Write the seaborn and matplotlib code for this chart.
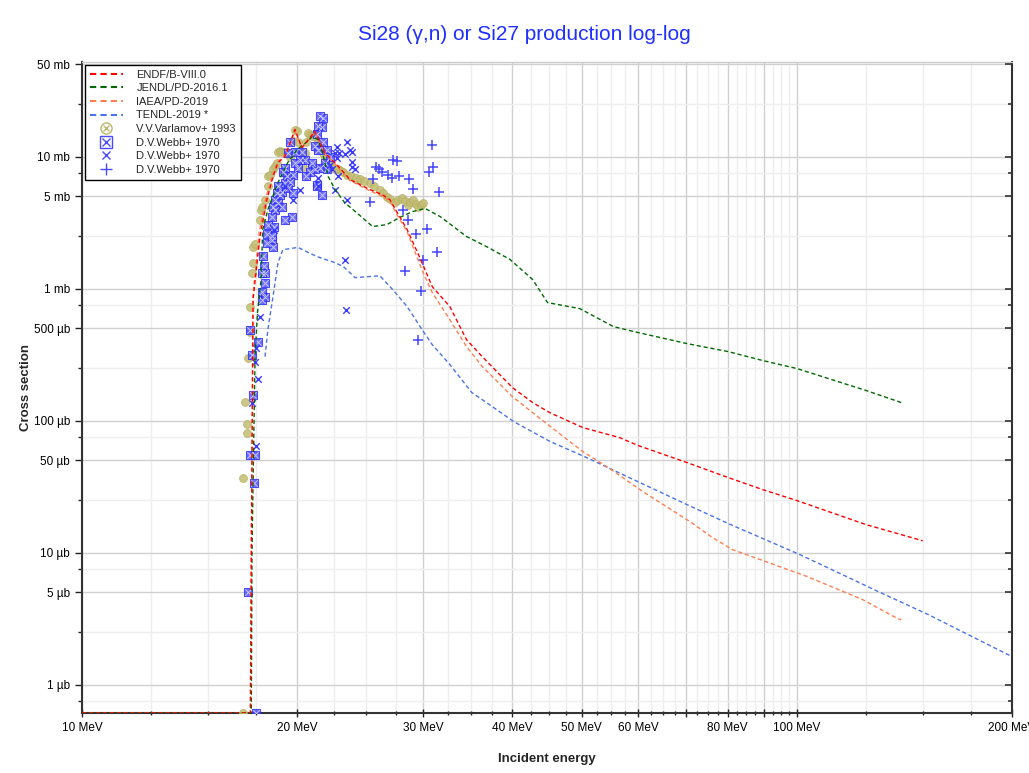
import numpy as np
import matplotlib
matplotlib.use("Agg")
import matplotlib.pyplot as plt
import seaborn as sns
from matplotlib.lines import Line2D
from matplotlib.legend_handler import HandlerTuple
from matplotlib.ticker import FixedLocator, FuncFormatter, NullFormatter

# ---------------- data (energy in MeV, cross section in mb) ----------------
endf_e = [10.0, 17.2, 17.24, 17.29, 17.35, 17.74, 18.14, 18.5, 18.8, 19.23, 19.86, 20.3,
          21.17, 21.86, 22.58, 23.7, 25.27, 26.3, 26.95, 27.6, 28.5, 29.68, 30.9, 32.7,
          34.5, 36.3, 40.0, 42.7, 45.1, 50.2, 56.5, 60.0, 70.2, 80.2, 89.6, 100.0, 125.0, 150.0]
endf_xs = [0, 0, 0.005, 0.053, 0.83, 2.48, 4.72, 7.06, 9.0, 10.0, 16.0, 11.7,
           15.5, 10.7, 9.0, 6.7, 5.62, 5.15, 4.72, 3.77, 2.80, 1.72, 1.035, 0.731,
           0.411, 0.305, 0.178, 0.137, 0.115, 0.0885, 0.0743, 0.0647, 0.0481, 0.037, 0.030, 0.0248, 0.0163, 0.0123]

jendl_e = [10.0, 17.25, 17.29, 17.46, 17.6, 17.8, 17.9, 18.2, 18.8, 19.4, 20.0, 20.6, 21.0,
           21.4, 21.7, 22.1, 22.6, 23.3, 24.2, 25.5, 26.7, 27.8, 29.0, 30.2, 31.7, 33.5,
           34.5, 36.8, 39.7, 42.7, 44.8, 49.7, 55.4, 60.0, 70.2, 80.2, 89.6, 100.0, 125.0, 140.0]
jendl_xs = [0, 0, 0.01, 0.305, 0.658, 1.17, 2.8, 3.97, 6.35, 9.0, 11.3, 12.8, 14.2,
            13.4, 10.7, 7.06, 5.62, 4.48, 3.77, 2.95, 3.05, 3.45, 3.83, 4.04, 3.51, 2.80,
            2.48, 2.08, 1.66, 1.17, 0.783, 0.705, 0.515, 0.464, 0.383, 0.333, 0.285, 0.248, 0.169, 0.137]

iaea_e = [10.0, 17.2, 17.24, 17.29, 17.35, 17.7, 18.1, 18.5, 18.8, 19.23, 19.86, 20.3,
          21.17, 21.86, 22.58, 23.7, 25.27, 26.3, 26.95, 27.6, 28.5, 30.0, 30.9, 32.7,
          34.5, 36.3, 40.0, 43.9, 50.2, 54.5, 61.2, 71.2, 76.2, 81.3, 103.3, 123.7, 137.5, 140.0]
iaea_xs = [0, 0, 0.005, 0.06, 0.9, 2.7, 5.0, 7.3, 9.2, 10.2, 15.5, 11.5,
           15.2, 10.5, 8.8, 6.6, 5.5, 5.0, 4.6, 3.6, 2.7, 1.32, 0.933, 0.582,
           0.364, 0.257, 0.152, 0.102, 0.0582, 0.044, 0.0285, 0.0169, 0.013, 0.01054, 0.0066, 0.0044, 0.00322, 0.0031]

tendl_e = [18.03, 18.2, 18.5, 18.8, 19.1, 20.05, 21.3, 22.6, 23.2, 24.1, 26.1, 27.2, 28.5,
           29.9, 30.9, 32.7, 35.1, 36.8, 40.2, 45.2, 50.8, 61.2, 71.2, 80.8, 101.0, 130.0, 152.8, 200.0]
tendl_xs = [0.305, 0.489, 0.869, 1.57, 1.97, 2.05, 1.75, 1.57, 1.47, 1.21, 1.25, 0.983, 0.731,
            0.489, 0.376, 0.266, 0.163, 0.137, 0.098, 0.0693, 0.0525, 0.0327, 0.0223, 0.0163, 0.00966, 0.00507, 0.00339, 0.00163]

varl_e = [16.8, 16.8, 16.9, 17.0, 17.0, 17.06, 17.18, 17.18, 17.29, 17.35, 17.35, 17.46, 17.74,
          17.8, 17.85, 18.03, 18.2, 18.2, 18.32, 18.5, 18.62, 18.75, 18.8, 18.92, 19.05, 19.2,
          19.36, 19.54, 19.7, 19.86, 19.98, 20.05, 20.2, 20.3, 20.4, 20.5, 20.6, 20.7, 20.84,
          20.97, 21.17, 21.3, 21.4, 21.55, 21.7, 21.85, 22.0, 22.2, 22.4, 22.6, 22.8, 23.0, 23.2,
          23.5, 23.8, 24.2, 24.5, 24.8, 25.27, 25.6, 26.1, 26.4, 26.7, 27.0, 27.4, 27.7, 28.0,
          28.3, 28.6, 28.8, 29.0, 29.3, 29.5, 29.8, 30.0]
varl_xs = [0, 0.037, 0.139, 0.095, 0.080, 0.30, 0.47, 0.73, 1.32, 1.57, 2.05, 2.16, 3.33,
           3.97, 4.18, 4.72, 5.93, 7.06, 7.3, 7.98, 8.5, 9.0, 10.9, 11.0, 10.9, 10.8,
           10.7, 10.0, 13.0, 16.0, 15.5, 12.8, 11.0, 10.0, 8.4, 10.7, 12.8, 15.2, 14.5,
           14.2, 14.7, 13.8, 12.8, 11.7, 10.7, 9.7, 9.2, 8.7, 8.3, 8.0, 7.98, 7.8, 7.7,
           7.3, 7.1, 6.9, 6.7, 6.5, 6.35, 6.0, 5.62, 5.3, 4.98, 4.75, 4.56, 4.7, 4.89,
           4.6, 4.33, 4.5, 4.72, 4.4, 4.18, 4.3, 4.45]

webb_sq_e = [17.06, 17.18, 17.46, 17.4, 17.35, 17.29, 17.18, 17.6, 17.85, 17.5, 18.14, 18.44,
             18.5, 17.9, 17.97, 18.03, 17.85, 18.03, 17.85, 18.03, 21.73, 21.66, 21.3, 21.17,
             21.4, 21.73, 22.0, 22.22, 21.86, 21.52, 22.0, 21.17, 20.97, 20.84, 21.3, 20.6,
             20.5, 20.3, 20.18, 19.86, 20.05, 19.73, 19.54, 19.86, 19.42, 19.23, 19.36, 19.1,
             19.23, 19.54, 19.42, 19.05, 18.8, 18.92, 18.74, 18.62, 18.8, 19.05, 19.73, 19.67,
             19.23, 18.62, 18.5, 18.44, 18.2, 18.56, 18.14, 18.44, 21.66, 21.3, 21.52, 21.4]
webb_sq_xs = [0.00507, 0.0552, 0.0552, 0.0339, 0.157, 0.316, 0.489, 0.397, 0.826, 0, 2.23, 2.35,
              2.05, 1.75, 1.47, 1.32, 1.32, 1.11, 0.95, 0.87, 19.7, 16.6, 14.7, 12.0,
              11.3, 12.8, 11.3, 10.0, 9.0, 8.25, 7.98, 7.98, 9.0, 7.7, 6.14, 7.06,
              9.49, 10.9, 9.49, 9.0, 8.25, 7.3, 12.8, 10.9, 10.7, 8.25, 7.06, 7.57,
              6.35, 6.46, 5.82, 5.43, 5.93, 5.15, 5.34, 4.72, 4.48, 4.18, 5.34, 3.51,
              3.33, 3.97, 4.18, 3.51, 3.05, 2.95, 2.57, 2.48, 5.15, 5.93, 20.1, 16.9]

webb_x_e = [22.7, 23.5, 23.7, 23.85, 23.3, 22.6, 22.9, 23.85, 23.9, 24.1, 23.5, 23.3, 23.4,
            22.4, 22.2, 22.6, 21.4, 21.4, 22.7, 22.8, 19.73, 20.18, 19.23, 17.74, 17.5, 17.46,
            17.6, 17.29, 17.5, 18.56]
webb_x_xs = [11.9, 12.8, 11.3, 10.9, 10.4, 10.7, 10.7, 9.16, 8.4, 8.1, 4.72, 1.66, 0.69,
             7.98, 8.7, 5.62, 6.9, 5.93, 9.8, 7.06, 4.72, 5.62, 5.93, 0.614, 0.357, 0.28,
             0.205, 0.137, 0.0647, 2.8]

webb_p_e = [30.87, 31.0, 30.6, 31.6, 28.3, 29.8, 30.0, 31.4, 30.4, 29.3, 29.0, 28.1, 28.6,
            25.3, 25.5, 27.2, 27.6, 25.8, 26.0, 26.3, 26.8, 27.1, 27.8, 28.7, 29.5]
webb_p_xs = [12.3, 8.4, 7.7, 5.43, 1.37, 0.966, 1.66, 1.9, 2.85, 2.61, 5.72, 3.97, 3.33,
             4.56, 6.7, 9.49, 9.3, 8.4, 8.1, 7.7, 7.2, 6.9, 7.06, 6.8, 0.41]

x_major = [10, 20, 30, 40, 50, 60, 70, 80, 90, 100, 200]
x_labels = {10: "10 MeV", 20: "20 MeV", 30: "30 MeV", 40: "40 MeV", 50: "50 MeV",
            60: "60 MeV", 80: "80 MeV", 100: "100 MeV", 200: "200 MeV"}
y_major = [0.001, 0.005, 0.01, 0.05, 0.1, 0.5, 1, 5, 10, 50]
y_labels = ["1 µb", "5 µb", "10 µb", "50 µb", "100 µb", "500 µb", "1 mb", "5 mb", "10 mb", "50 mb"]

Y_MIN, Y_MAX = 6.1e-4, 52.0
X_MIN, X_MAX = 10.0, 200.0


def floor(v):
    a = np.asarray(v, dtype=float)
    return np.where(a <= 0, Y_MIN, a)


sns.set_style("white")
plt.rcParams["font.family"] = ["Liberation Sans", "DejaVu Sans"]

fig = plt.figure(figsize=(10.29, 7.73), dpi=100)
ax = fig.add_axes([0.0797, 0.0776, 0.9038, 0.8422])
ax.set_xscale("log")
ax.set_yscale("log")

dash = (0, (3, 2))
series = [
    (endf_e, endf_xs, "#ff0000", "ENDF/B-VIII.0"),
    (jendl_e, jendl_xs, "#006a00", "JENDL/PD-2016.1"),
    (iaea_e, iaea_xs, "#ff7f50", "IAEA/PD-2019"),
    (tendl_e, tendl_xs, "#4a74e8", "TENDL-2019 *"),
]
for e, xs, col, lab in [series[3], series[2], series[1], series[0]]:
    sns.lineplot(x=np.asarray(e), y=floor(xs), ax=ax, color=col, linestyle=dash,
                 linewidth=1.0, sort=False, estimator=None, legend=False, zorder=4)

olive = "#bdb76b"
sns.scatterplot(x=varl_e, y=floor(varl_xs), ax=ax, marker="o", s=32,
                color="#c2bd72", edgecolor="#b5af60", linewidth=0.6, alpha=0.85, legend=False, zorder=3)
sns.scatterplot(x=webb_sq_e, y=floor(webb_sq_xs), ax=ax, marker="s", s=40,
                color="#4a4aff", edgecolor="#2f2fff", linewidth=0.8, alpha=0.8, legend=False, zorder=3)
sns.scatterplot(x=webb_sq_e, y=floor(webb_sq_xs), ax=ax, marker="x", s=22,
                color="#c8c8ff", linewidth=0.7, legend=False, zorder=3)
sns.scatterplot(x=webb_x_e, y=floor(webb_x_xs), ax=ax, marker="x", s=22,
                color="#3a3aff", linewidth=1.0, legend=False, zorder=3)
sns.scatterplot(x=webb_p_e, y=floor(webb_p_xs), ax=ax, marker="+", s=50,
                color="#4545ff", linewidth=1.1, legend=False, zorder=3)

ax.set_xlim(X_MIN, X_MAX)
ax.set_ylim(Y_MIN, Y_MAX)

# ticks
ax.xaxis.set_major_locator(FixedLocator(x_major))
ax.xaxis.set_major_formatter(FuncFormatter(lambda v, p: x_labels.get(int(round(v)), "")))
x_minor = [v for v in np.arange(12.5, 100, 2.5) if v % 10 != 0] + [125, 150, 175]
ax.xaxis.set_minor_locator(FixedLocator(x_minor))
ax.xaxis.set_minor_formatter(NullFormatter())

ax.yaxis.set_major_locator(FixedLocator(y_major))
ax.set_yticklabels(y_labels)
y_minor = [m * 10.0 ** k for k in range(-4, 2) for m in (2.5, 7.5)]
ax.yaxis.set_minor_locator(FixedLocator(y_minor))
ax.yaxis.set_minor_formatter(NullFormatter())

ax.grid(which="major", color="#d0d0d0", linewidth=1.0, zorder=0)
ax.grid(which="minor", color="#eeeeee", linewidth=1.0, zorder=0)
ax.set_axisbelow(True)

ax.tick_params(axis="both", which="major", labelsize=8.5, colors="#222222", labelcolor="black")
ax.tick_params(axis="y", which="both", left=True, right=False, direction="out", length=5, width=1)
ax.tick_params(axis="x", which="both", bottom=True, direction="inout", length=6, width=1)
ax.tick_params(axis="x", which="minor", length=3)
ax.tick_params(axis="y", which="minor", length=3)

# inward ticks on the right spine
ax_r = ax.twinx()
ax_r.set_yscale("log")
ax_r.set_ylim(Y_MIN, Y_MAX)
ax_r.yaxis.set_major_locator(FixedLocator(y_major))
ax_r.yaxis.set_minor_locator(FixedLocator(y_minor))
ax_r.yaxis.set_major_formatter(NullFormatter())
ax_r.yaxis.set_minor_formatter(NullFormatter())
ax_r.tick_params(axis="y", which="major", direction="in", length=5, width=1.2, colors="#333333")
ax_r.tick_params(axis="y", which="minor", direction="in", length=3, width=1.2, colors="#333333")
ax_r.grid(False)
for s in ax_r.spines.values():
    s.set_visible(False)

for s in ("left", "bottom", "right"):
    ax.spines[s].set_color("#333333")
    ax.spines[s].set_linewidth(1.5)
ax.spines["top"].set_color("#cccccc")
ax.spines["top"].set_linewidth(1.0)

ax.set_xlabel("Incident energy", fontsize=9.5, fontweight="bold", labelpad=14)
ax.set_ylabel("Cross section", fontsize=9.5, fontweight="bold", labelpad=1)
fig.suptitle("Si28 (γ,n) or Si27 production log-log", x=0.51, y=0.968,
             fontsize=15, color="#1f2fff")

mblue = "#4a4aff"
handles = [
    Line2D([], [], color="#ff0000", linestyle=dash, linewidth=1.5),
    Line2D([], [], color="#006a00", linestyle=dash, linewidth=1.5),
    Line2D([], [], color="#ff7f50", linestyle=dash, linewidth=1.5),
    Line2D([], [], color="#4a74e8", linestyle=dash, linewidth=1.5),
    (Line2D([], [], linestyle="none", marker="o", markersize=8, markerfacecolor="none",
            markeredgecolor=olive, markeredgewidth=1.0),
     Line2D([], [], linestyle="none", marker="x", markersize=5, color=olive, markeredgewidth=1.0)),
    (Line2D([], [], linestyle="none", marker="s", markersize=8, markerfacecolor="none",
            markeredgecolor=mblue, markeredgewidth=1.0),
     Line2D([], [], linestyle="none", marker="x", markersize=6, color=mblue, markeredgewidth=1.0)),
    Line2D([], [], linestyle="none", marker="x", color=mblue, markersize=6, markeredgewidth=1.0),
    Line2D([], [], linestyle="none", marker="+", color=mblue, markersize=8, markeredgewidth=1.0),
]
labels = ["ENDF/B-VIII.0", "JENDL/PD-2016.1", "IAEA/PD-2019", "TENDL-2019 *",
          "V.V.Varlamov+ 1993", "D.V.Webb+ 1970", "D.V.Webb+ 1970", "D.V.Webb+ 1970"]
leg = ax.legend(handles, labels, loc="upper left", bbox_to_anchor=(0.0, 1.0),
                fontsize=8, frameon=True, fancybox=False, framealpha=1,
                edgecolor="black", handlelength=3.0, labelspacing=0.32,
                borderaxespad=0.25, borderpad=0.45, handletextpad=1.2,
                handler_map={tuple: HandlerTuple(ndivide=1, pad=0)})
leg.get_frame().set_linewidth(1.0)
leg.set_zorder(10)

fig.savefig("out.png", dpi=100, facecolor="white")
